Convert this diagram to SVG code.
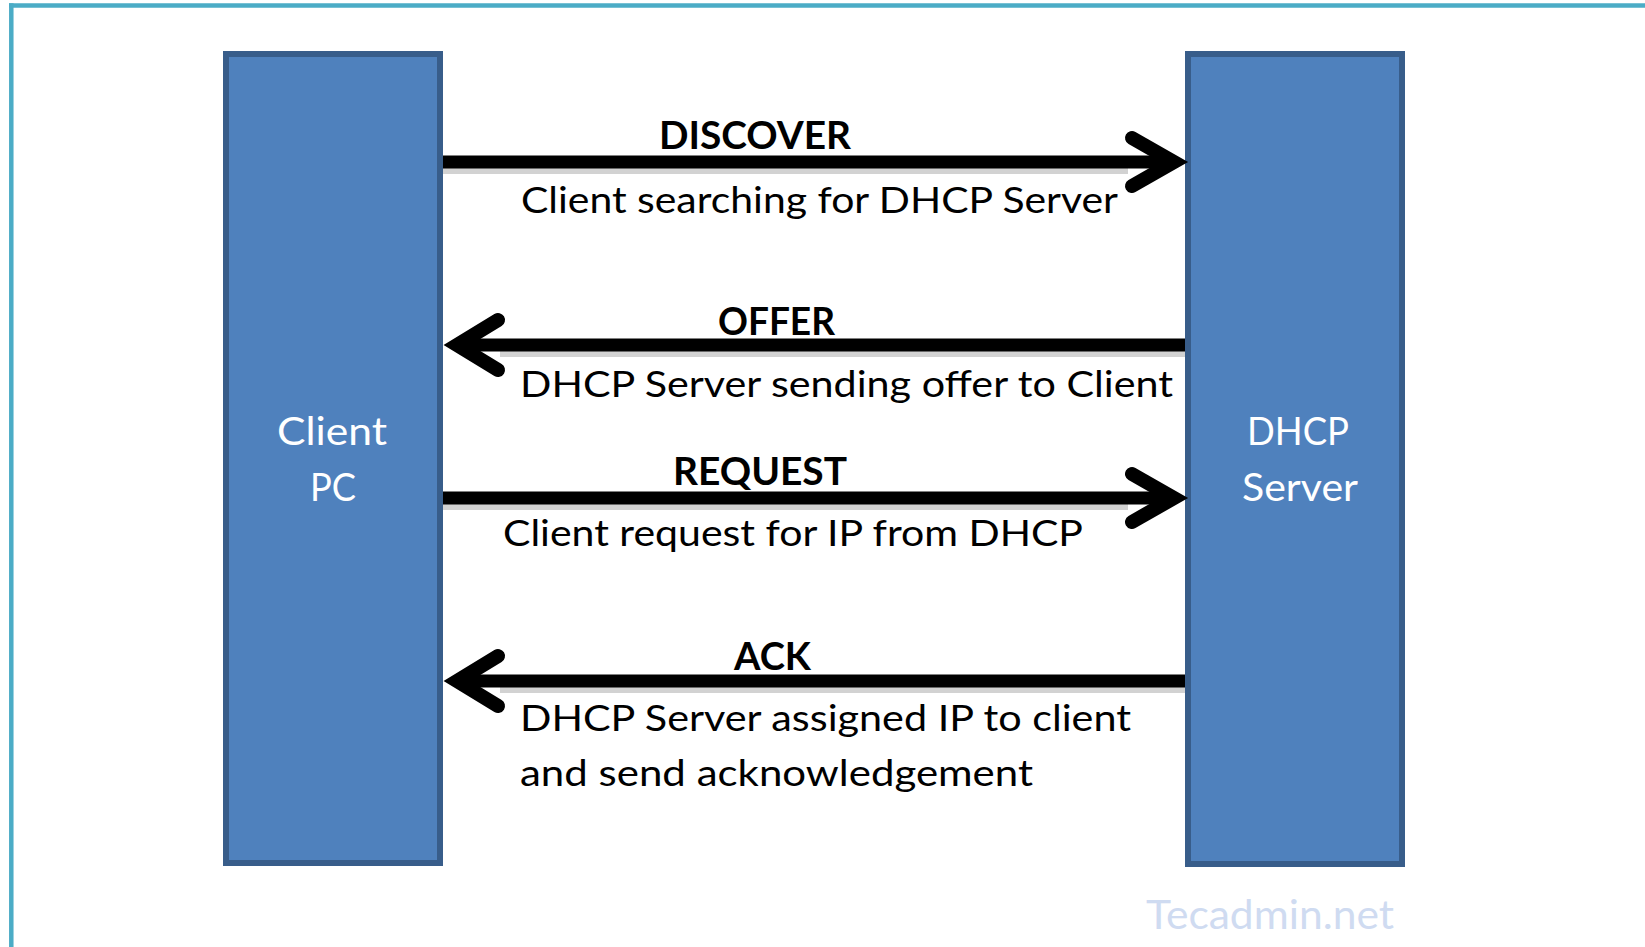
<svg xmlns="http://www.w3.org/2000/svg" width="1645" height="947" viewBox="0 0 1645 947">
<style>
.box{fill:#4F81BD;stroke:#385D8A;stroke-width:6}
.lbl{font-family:Lato,"Liberation Sans",sans-serif;font-size:39px;font-weight:bold;fill:#000}
.txt{font-family:Lato,"Liberation Sans",sans-serif;font-size:37px;fill:#000}
.node{font-family:Lato,"Liberation Sans",sans-serif;font-size:38px;fill:#fff}
.shaft{stroke:#000;stroke-width:13;fill:none}
.shadow{stroke:#d2d2d2;stroke-width:6;fill:none}
.head{stroke:#000;stroke-width:14;fill:none;stroke-linecap:round;stroke-linejoin:miter;stroke-miterlimit:10}
.wm{font-family:Lato,"Open Sans",sans-serif;font-size:41px;fill:#CFDBF1}
</style>
<rect width="1645" height="947" fill="#fff"/>
<g id="frame">
<line x1="9" y1="5.5" x2="1645" y2="5.5" stroke="#4BACC6" stroke-width="4.5"/>
<line x1="11.3" y1="3.3" x2="11.3" y2="947" stroke="#4BACC6" stroke-width="4.5"/>
</g>
<g id="client">
<rect class="box" x="226" y="54" width="214" height="809"/>
<text class="node" x="277" y="445" textLength="110" lengthAdjust="spacingAndGlyphs">Client</text>
<text class="node" x="310" y="501" textLength="46" lengthAdjust="spacingAndGlyphs">PC</text>
</g>
<g id="server">
<rect class="box" x="1188" y="54" width="214" height="810"/>
<text class="node" x="1247" y="445" textLength="102" lengthAdjust="spacingAndGlyphs">DHCP</text>
<text class="node" x="1242" y="501" textLength="116" lengthAdjust="spacingAndGlyphs">Server</text>
</g>
<g id="connectors">
<g id="discover">
<line class="shadow" x1="443" y1="171" x2="1128" y2="171"/>
<line class="shaft" x1="443" y1="162" x2="1174" y2="162"/>
<polyline class="head" points="1132,138 1174,162 1132,186"/>
</g>
<g id="offer">
<line class="shadow" x1="500" y1="354" x2="1185" y2="354"/>
<line class="shaft" x1="457" y1="345" x2="1185" y2="345"/>
<polyline class="head" points="498,320 457,345 498,370"/>
</g>
<g id="request">
<line class="shadow" x1="443" y1="507" x2="1128" y2="507"/>
<line class="shaft" x1="443" y1="498" x2="1174" y2="498"/>
<polyline class="head" points="1132,474 1174,498 1132,522"/>
</g>
<g id="ack">
<line class="shadow" x1="500" y1="690" x2="1185" y2="690"/>
<line class="shaft" x1="457" y1="681" x2="1185" y2="681"/>
<polyline class="head" points="498,656 457,681 498,706"/>
</g>
</g>
<g id="labels">
<text class="lbl" x="659" y="149" textLength="192" lengthAdjust="spacingAndGlyphs">DISCOVER</text>
<text class="txt" x="521" y="213" textLength="597" lengthAdjust="spacingAndGlyphs">Client searching for DHCP Server</text>
<text class="lbl" x="718" y="335" textLength="117" lengthAdjust="spacingAndGlyphs">OFFER</text>
<text class="txt" x="520" y="397" textLength="653" lengthAdjust="spacingAndGlyphs">DHCP Server sending offer to Client</text>
<text class="lbl" x="673" y="485" textLength="174" lengthAdjust="spacingAndGlyphs">REQUEST</text>
<text class="txt" x="503" y="546" textLength="580" lengthAdjust="spacingAndGlyphs">Client request for IP from DHCP</text>
<text class="lbl" x="734" y="670" textLength="77" lengthAdjust="spacingAndGlyphs">ACK</text>
<text class="txt" x="520" y="731" textLength="611" lengthAdjust="spacingAndGlyphs">DHCP Server assigned IP to client</text>
<text class="txt" x="520" y="786" textLength="513" lengthAdjust="spacingAndGlyphs">and send acknowledgement</text>
</g>
<g id="watermark">
<text class="wm" x="1146" y="929" textLength="248" lengthAdjust="spacingAndGlyphs">Tecadmin.net</text>
</g>
</svg>
